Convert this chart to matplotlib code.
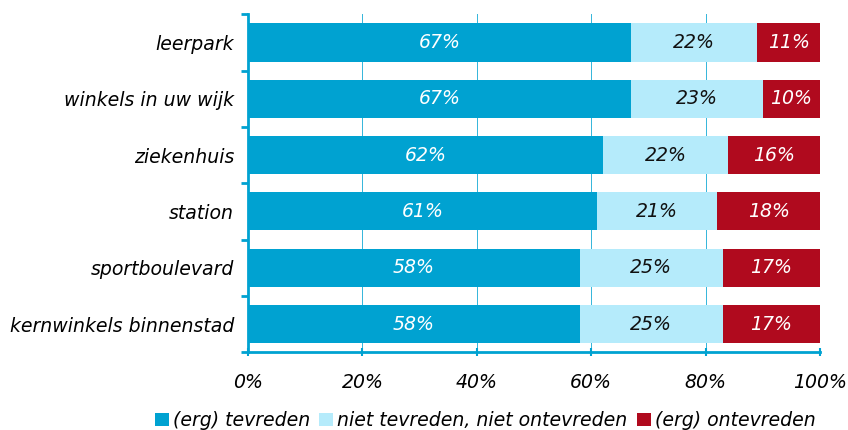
import matplotlib.pyplot as plt
import numpy as np

categories = ["leerpark", "winkels in uw wijk", "ziekenhuis", "station",
              "sportboulevard", "kernwinkels binnenstad"]
tevreden = [67, 67, 62, 61, 58, 58]
neutraal = [22, 23, 22, 21, 25, 25]
ontevreden = [11, 10, 16, 18, 17, 17]
series_names = ["(erg) tevreden", "niet tevreden, niet ontevreden", "(erg) ontevreden"]

CYAN = "#00A2D1"
LIGHT = "#B5EBFB"
RED = "#B00A1E"
FS = 13.6

plt.rcParams["font.family"] = ["DejaVu Sans"]
plt.rcParams["font.style"] = "italic"

fig = plt.figure(figsize=(8.48, 4.3), dpi=100)
ax = fig.add_axes([0.2925, 0.181, 0.6745, 0.786])

y = np.arange(len(categories))
h = 0.68
left = np.zeros(len(categories))
for vals, col, name, tc in zip([tevreden, neutraal, ontevreden],
                               [CYAN, LIGHT, RED], series_names,
                               ["white", "#111111", "white"]):
    vals = np.array(vals, dtype=float)
    ax.barh(y, vals, left=left, height=h, color=col, label=name, zorder=3)
    for yi, l, v in zip(y, left, vals):
        ax.text(l + v / 2, yi, f"{int(v)}%", ha="center", va="center",
                color=tc, fontsize=FS, style="italic", zorder=4)
    left += vals

ax.set_xlim(0, 100)
ax.set_ylim(len(categories) - 0.5, -0.5)
ax.set_xticks(np.arange(0, 101, 20))
ax.set_xticklabels([f"{v}%" for v in range(0, 101, 20)], fontsize=FS)
ax.set_yticks(y)
ax.set_yticklabels(categories, fontsize=FS)
ax.set_yticks(np.arange(-0.5, len(categories), 1), minor=True)
ax.tick_params(axis="y", which="major", length=0, pad=10)
ax.tick_params(axis="y", which="minor", length=5, width=2, color=CYAN, direction="out")
ax.tick_params(axis="x", length=6, width=1.5, color=CYAN, direction="inout", pad=12)

ax.grid(axis="x", color=CYAN, linewidth=0.7, alpha=0.8, zorder=0)
for s in ["top", "right"]:
    ax.spines[s].set_visible(False)
for s in ["left", "bottom"]:
    ax.spines[s].set_color(CYAN)
    ax.spines[s].set_linewidth(2)

fig.legend(loc="center", bbox_to_anchor=(0.572, 0.022), ncol=3, frameon=False,
           fontsize=FS, handlelength=0.75, handleheight=0.75, handletextpad=0.2,
           columnspacing=0.5)

fig.savefig("out.png", dpi=100)
